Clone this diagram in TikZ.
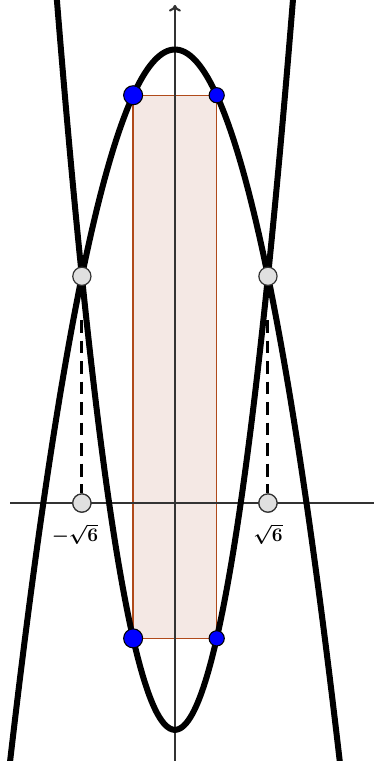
\documentclass[tikz,border=0pt]{standalone}
\usetikzlibrary{arrows.meta}
\definecolor{rectfill}{HTML}{F4E8E4}
\definecolor{rectline}{HTML}{B04A1A}
\definecolor{axiscol}{HTML}{333333}
\definecolor{ptgray}{HTML}{E0E0E0}
\tikzset{
  curve/.style={line width=4.5pt, black},
  axisline/.style={line width=1.9pt, axiscol},
  bluept/.style={circle, fill=blue, draw=black, line width=0.8pt, inner sep=0pt},
  graypt/.style={circle, fill=ptgray, draw=black!80, line width=0.9pt, inner sep=0pt, minimum size=0.48cm},
  dashline/.style={line width=2.2pt, dash pattern=on 0.34cm off 0.2cm},
  lbl/.style={font=\fontsize{14.5}{16}\selectfont\boldmath}
}
\begin{document}
\begin{tikzpicture}[x=1cm,y=0.995cm]
\useasboundingbox (-4.605,-6.825) rectangle (5.237,13.31);
\clip (-4.605,-6.825) rectangle (5.237,13.31);
% rectangle
\filldraw[fill=rectfill, draw=rectline, line width=1pt] (-1.1,-3.58) rectangle (1.1,10.79);
% axes
\coordinate (xs) at (-4.34,0);
\coordinate (xe) at (5.24,0);
\coordinate (ys) at (0,-6.9);
\coordinate (ye) at (0,13.18);
\draw[axisline] (xs) -- (xe);
\draw[axisline, -{To[length=5pt,width=9pt,line width=1.6pt]}] (ys) -- (ye);
% curves
\draw[curve, domain=-4.5:4.5, samples=120, smooth] plot (\x,{12-\x*\x});
\draw[curve, domain=-3.2:3.2, samples=120, smooth] plot (\x,{2*\x*\x-6});
% points
\node[graypt] (A) at (-2.4495,6) {};
\node[graypt] (B) at (2.4495,6) {};
\node[graypt] (A0) at (-2.4495,0) {};
\node[graypt] (B0) at (2.4495,0) {};
\draw[dashline] (A.south) ++(0,-0.9) coordinate (Ad) -- (A0.north);
\draw[dashline] (B.south) ++(0,-0.9) coordinate (Bd) -- (B0.north);
\node[graypt] at (A0) {};
\node[graypt] at (B0) {};
\node[bluept, minimum size=0.5cm] (P1) at (-1.1,10.79) {};
\node[bluept, minimum size=0.4cm] (P2) at (1.1,10.79) {};
\node[bluept, minimum size=0.5cm] (P3) at (-1.1,-3.58) {};
\node[bluept, minimum size=0.4cm] (P4) at (1.1,-3.58) {};
% labels
\node[lbl] (L1) at (-2.63,-0.82) {$-\sqrt{6}$};
\node[lbl] (L2) at (2.45,-0.82) {$\sqrt{6}$};
\end{tikzpicture}
\end{document}
